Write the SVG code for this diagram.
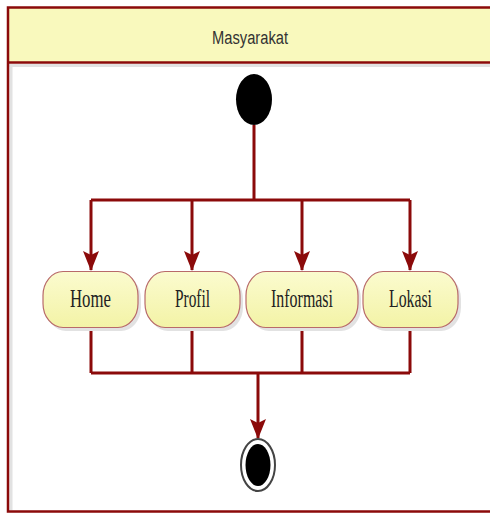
<svg xmlns="http://www.w3.org/2000/svg" width="490" height="513" viewBox="0 0 490 513">
  <defs>
    <linearGradient id="nodeFill" x1="0" y1="0" x2="0" y2="1">
      <stop offset="0" stop-color="#FBFBCF"/>
      <stop offset="1" stop-color="#F3F3A6"/>
    </linearGradient>
    <marker id="arrowDown" markerUnits="userSpaceOnUse" markerWidth="20" markerHeight="16" viewBox="0 0 20 16" refX="19" refY="8" orient="auto">
      <path d="M0,0 L4,8 L0,16 L20,8 Z" fill="#8B0A0A"/>
    </marker>
  </defs>
  <style>
    .frame { fill: none; stroke: #8B0A0A; stroke-width: 2.5; }
    .conn { fill: none; stroke: #8B0A0A; stroke-width: 3; }
    .node { fill: url(#nodeFill); stroke: #B86A6A; stroke-width: 1.2; }
    .shadow { fill: #E2E2E2; }
    .label { font-family: "Liberation Serif", "Times New Roman", serif; font-size: 25px; fill: #222; text-anchor: middle; }
    .title { font-family: "Liberation Sans", Arial, sans-serif; font-size: 18px; fill: #333; text-anchor: middle; }
  </style>

  <rect x="0" y="0" width="490" height="513" fill="#FFFFFF"/>

  <!-- swimlane -->
  <g id="lane">
    <rect x="8" y="7.5" width="500" height="55" fill="#F9F9BD"/>
    <rect x="9.5" y="64" width="490" height="3" class="shadow"/>
    <rect x="9.5" y="64" width="3" height="446" class="shadow"/>
    <rect x="8" y="7.5" width="500" height="504" class="frame"/>
    <line x1="8" y1="62.5" x2="490" y2="62.5" stroke="#8B0A0A" stroke-width="2.5"/>
    <text class="title" x="250" y="43.5" textLength="76" lengthAdjust="spacingAndGlyphs">Masyarakat</text>
  </g>

  <!-- connectors -->
  <g id="connectors">
    <path class="conn" d="M254,125 V200 M91,200 H410"/>
    <line class="conn" x1="91" y1="200" x2="91" y2="270" marker-end="url(#arrowDown)"/>
    <line class="conn" x1="192" y1="200" x2="192" y2="270" marker-end="url(#arrowDown)"/>
    <line class="conn" x1="302" y1="200" x2="302" y2="270" marker-end="url(#arrowDown)"/>
    <line class="conn" x1="410" y1="200" x2="410" y2="270" marker-end="url(#arrowDown)"/>
    <path class="conn" d="M91,328 V373 M192,328 V373 M302,328 V373 M410,328 V373 M91,373 H410"/>
    <line class="conn" x1="258" y1="373" x2="258" y2="438" marker-end="url(#arrowDown)"/>
  </g>

  <!-- start -->
  <g id="start">
    <ellipse cx="254" cy="99.5" rx="18" ry="25.5" fill="#000"/>
  </g>

  <!-- nodes -->
  <g id="home">
    <rect x="46" y="275" width="95" height="56" rx="20" ry="24" class="shadow"/>
    <rect x="43" y="271.5" width="95" height="56" rx="20" ry="24" class="node"/>
    <text class="label" x="90.5" y="307" textLength="41" lengthAdjust="spacingAndGlyphs">Home</text>
  </g>
  <g id="profil">
    <rect x="148" y="275" width="95" height="56" rx="20" ry="24" class="shadow"/>
    <rect x="145" y="271.5" width="95" height="56" rx="20" ry="24" class="node"/>
    <text class="label" x="192.5" y="307" textLength="35" lengthAdjust="spacingAndGlyphs">Profil</text>
  </g>
  <g id="informasi">
    <rect x="249" y="275" width="112" height="56" rx="20" ry="24" class="shadow"/>
    <rect x="246" y="271.5" width="112" height="56" rx="20" ry="24" class="node"/>
    <text class="label" x="302" y="306.5" textLength="62" lengthAdjust="spacingAndGlyphs">Informasi</text>
  </g>
  <g id="lokasi">
    <rect x="366" y="275" width="95" height="56" rx="20" ry="24" class="shadow"/>
    <rect x="363" y="271.5" width="95" height="56" rx="20" ry="24" class="node"/>
    <text class="label" x="410.5" y="306.5" textLength="43" lengthAdjust="spacingAndGlyphs">Lokasi</text>
  </g>

  <!-- end -->
  <g id="end">
    <ellipse cx="258" cy="465" rx="17" ry="26" fill="#FFF" stroke="#444" stroke-width="2"/>
    <ellipse cx="258" cy="465" rx="12.5" ry="21" fill="#000"/>
  </g>
</svg>
